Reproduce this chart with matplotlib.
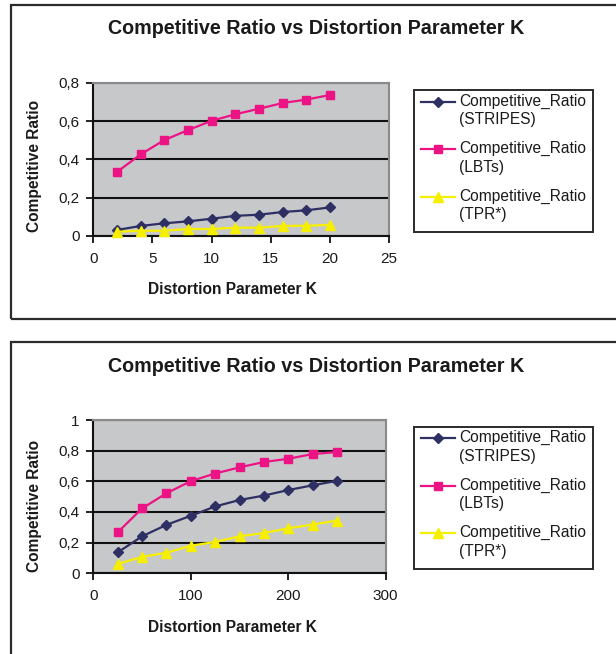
import matplotlib
matplotlib.use("Agg")
import matplotlib.pyplot as plt
from matplotlib.lines import Line2D
from matplotlib.patches import Rectangle
from matplotlib.ticker import FuncFormatter

# ---- data ----
k_small = [2, 4, 6, 8, 10, 12, 14, 16, 18, 20]
stripes_small = [0.030, 0.051, 0.065, 0.075, 0.089, 0.104, 0.110, 0.124, 0.133, 0.148]
lbts_small = [0.334, 0.426, 0.501, 0.553, 0.602, 0.636, 0.665, 0.695, 0.713, 0.737]
tpr_small = [0.021, 0.026, 0.026, 0.035, 0.035, 0.042, 0.042, 0.051, 0.052, 0.057]

k_large = [25, 50, 75, 100, 125, 150, 175, 200, 225, 250]
stripes_large = [0.136, 0.241, 0.316, 0.375, 0.436, 0.478, 0.507, 0.543, 0.574, 0.603]
lbts_large = [0.267, 0.423, 0.522, 0.601, 0.651, 0.691, 0.726, 0.747, 0.778, 0.791]
tpr_large = [0.061, 0.107, 0.134, 0.180, 0.204, 0.241, 0.263, 0.293, 0.318, 0.344]

series_names = ["Competitive_Ratio\n(STRIPES)", "Competitive_Ratio\n(LBTs)", "Competitive_Ratio\n(TPR*)"]
title_text = "Competitive Ratio vs Distortion Parameter K"
xlabel_text = "Distortion Parameter K"
ylabel_text = "Competitive Ratio"

# ---- styling ----
W, H = 616, 654
FONT = "Liberation Sans"
plt.rcParams["font.family"] = [FONT, "DejaVu Sans"]
TXT = "#1a1a1a"
COL_STRIPES = "#2e2f63"
COL_LBTS = "#ec1385"
COL_TPR = "#f7ef00"
PLOT_BG = "#c7c8ca"

styles = [
    dict(color=COL_STRIPES, marker="D", ms=5.5),
    dict(color=COL_LBTS, marker="s", ms=6.0),
    dict(color=COL_TPR, marker="^", ms=7.5),
]

fig = plt.figure(figsize=(W / 100, H / 100), dpi=100)


def fx(px):
    return px / W


def fy(py):
    return 1 - py / H


def comma_fmt(v, _pos):
    s = f"{v:.1f}".rstrip("0").rstrip(".")
    return s.replace(".", ",")


def panel(frame_top, frame_bottom, ax_box, xs, ys_list, xlim, xticks, ylim, yticks,
          title_y, xlabel_y, ylabel_y, legend_box):
    # outer chart frame
    fig.add_artist(Rectangle((fx(11), fy(frame_bottom)), fx(W + 20) - fx(11),
                             fy(frame_top) - fy(frame_bottom), transform=fig.transFigure,
                             fill=False, edgecolor="#2b2b2b", lw=1.6, clip_on=False))

    left, top, right, bottom = ax_box
    ax = fig.add_axes([fx(left), fy(bottom), fx(right) - fx(left), fy(top) - fy(bottom)])
    ax.set_facecolor(PLOT_BG)
    for (y_vals, st) in zip(ys_list, styles):
        ax.plot(xs, y_vals, color=st["color"], lw=1.6, marker=st["marker"],
                ms=st["ms"], mec=st["color"], mfc=st["color"], zorder=3, clip_on=False)
    ax.set_xlim(*xlim)
    ax.set_ylim(*ylim)
    ax.set_xticks(xticks)
    ax.set_yticks(yticks)
    ax.yaxis.set_major_formatter(FuncFormatter(comma_fmt))
    ax.grid(axis="y", color="#111111", lw=1.5, zorder=1)
    ax.set_axisbelow(True)
    for side in ("left", "bottom"):
        ax.spines[side].set_color("#111111")
        ax.spines[side].set_linewidth(1.5)
    for side in ("top", "right"):
        ax.spines[side].set_color("#8a8a8a")
        ax.spines[side].set_linewidth(1.5)
    ax.tick_params(axis="both", direction="out", length=5, width=1.3, color="#111111",
                   labelsize=11, labelcolor=TXT)
    ax.tick_params(axis="x", pad=6.5)
    ax.tick_params(axis="y", pad=5)

    fig.text(fx(316), fy(title_y), title_text, ha="center", va="center",
             fontsize=14.2, fontweight="bold", color=TXT)
    fig.text(fx(232), fy(xlabel_y), xlabel_text, ha="center", va="center",
             fontsize=11.2, fontweight="bold", color=TXT)
    fig.text(fx(35), fy(ylabel_y), ylabel_text, ha="center", va="center",
             rotation=90, fontsize=11.2, fontweight="bold", color=TXT)

    # legend box
    lx0, ly0, lx1, ly1 = legend_box
    fig.add_artist(Rectangle((fx(lx0), fy(ly1)), fx(lx1) - fx(lx0), fy(ly0) - fy(ly1),
                             transform=fig.transFigure, facecolor="white",
                             edgecolor="#2b2b2b", lw=1.4))
    for i, (name, st) in enumerate(zip(series_names, styles)):
        first_line_y = ly0 + 11.5 + i * 47.5
        fig.add_artist(Line2D([fx(lx0 + 7), fx(lx0 + 41)], [fy(first_line_y)] * 2,
                              transform=fig.transFigure, color=st["color"], lw=1.6))
        fig.add_artist(Line2D([fx(lx0 + 24)], [fy(first_line_y)], transform=fig.transFigure,
                              color=st["color"], marker=st["marker"], ms=st["ms"] - 0.5,
                              mec=st["color"], mfc=st["color"], lw=0))
        fig.text(fx(lx0 + 45), fy(first_line_y - 8), name, ha="left", va="top",
                 fontsize=11.2, color=TXT, linespacing=1.3)
    return ax


panel(5, 319.3, (93.3, 83.0, 389.0, 235.7), k_small,
      [stripes_small, lbts_small, tpr_small],
      (0, 25), [0, 5, 10, 15, 20, 25], (0, 0.8), [0, 0.2, 0.4, 0.6, 0.8],
      29, 290, 166, (414, 90, 593, 232))

panel(342.3, H + 20, (93.3, 420.0, 385.7, 573.3), k_large,
      [stripes_large, lbts_large, tpr_large],
      (0, 300), [0, 100, 200, 300], (0, 1.0), [0, 0.2, 0.4, 0.6, 0.8, 1.0],
      367, 627.5, 506, (414, 426.7, 593, 569.3))

fig.savefig("out.png", dpi=100, facecolor="white")
